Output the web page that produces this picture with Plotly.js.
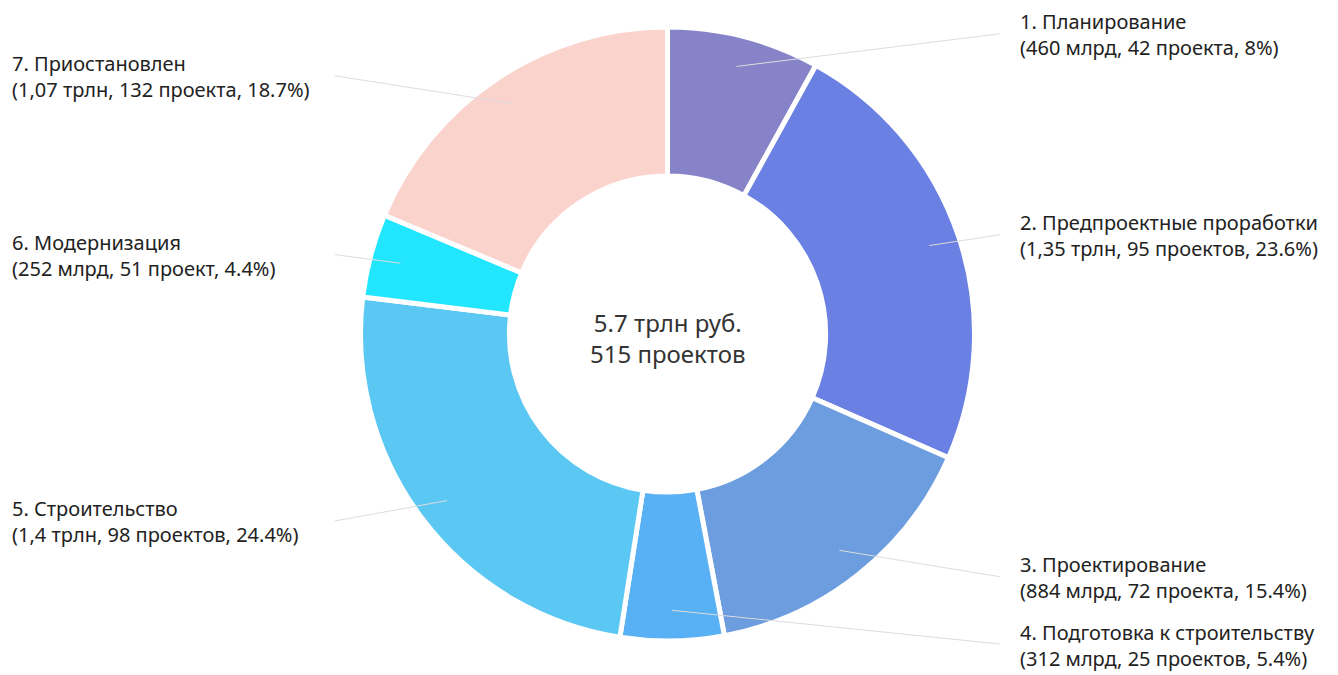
<!DOCTYPE html>
<html>
<head>
<meta charset="utf-8">
<script src="https://cdn.plot.ly/plotly-3.0.1.min.js"></script>
<style>html,body{margin:0;padding:0;background:#fff;}#chart{width:1338px;height:675px;}</style>
</head>
<body>
<div id="chart"></div>
<script>
const stageNames = ["1. Планирование", "2. Предпроектные проработки", "3. Проектирование", "4. Подготовка к строительству", "5. Строительство", "6. Модернизация", "7. Приостановлен"];
const valuesBln = [460, 1350, 884, 312, 1400, 252, 1070];
const amountLabels = ["460 млрд", "1,35 трлн", "884 млрд", "312 млрд", "1,4 трлн", "252 млрд", "1,07 трлн"];
const projectLabels = ["42 проекта", "95 проектов", "72 проекта", "25 проектов", "98 проектов", "51 проект", "132 проекта"];
const percentLabels = ["8%", "23.6%", "15.4%", "5.4%", "24.4%", "4.4%", "18.7%"];
const colors = ["#8783c9", "#6a80e3", "#6b9ddf", "#58b0f5", "#5bc8f4", "#22e6fe", "#fbd3cd"];
const centerText = "5.7 трлн руб.<br>515 проектов";

const W = 1338, H = 675;
const cx = 667.5, cy = 334, R = 307;
const px = x => x / W, py = y => 1 - y / H;

const total = valuesBln.reduce((a, b) => a + b, 0);
const shapes = [], annotations = [];
let cum = 0;
valuesBln.forEach((v, i) => {
  const mid = (cum + v / 2) / total * 2 * Math.PI;
  cum += v;
  const sx = cx + 0.9 * R * Math.sin(mid), sy = cy - 0.9 * R * Math.cos(mid);
  const right = Math.sin(mid) >= 0;
  const ly = cy - 1.01 * R * Math.cos(mid);
  const ex = right ? 1000 : 335;
  shapes.push({type: "line", xref: "paper", yref: "paper", x0: px(sx), y0: py(sy), x1: px(ex), y1: py(ly),
    line: {color: "#dcdcdc", width: 1}});
  annotations.push({xref: "paper", yref: "paper", x: px(right ? 1018 : 10), y: py(ly + 1),
    xanchor: "left", yanchor: "middle", align: "left", showarrow: false,
    text: stageNames[i] + "<br>(" + amountLabels[i] + ", " + projectLabels[i] + ", " + percentLabels[i] + ")",
    font: {family: "Noto Sans, Open Sans, sans-serif", size: 20, color: "#222"}});
});
annotations.push({xref: "paper", yref: "paper", x: px(cx), y: py(cy + 4), xanchor: "center", yanchor: "middle",
  showarrow: false, text: centerText, font: {family: "Noto Sans, Open Sans, sans-serif", size: 24, color: "#333"}});

const data = [{
  type: "pie", values: valuesBln, labels: stageNames, sort: false, direction: "clockwise", rotation: 0,
  hole: 0.515, textinfo: "none", hoverinfo: "label+percent",
  marker: {colors: colors, line: {color: "#ffffff", width: 5}},
  domain: {x: [px(cx - R), px(cx + R)], y: [py(cy + R), py(cy - R)]},
  showlegend: false
}];
const layout = {width: W, height: H, margin: {l: 0, r: 0, t: 0, b: 0}, paper_bgcolor: "#fff",
  showlegend: false, shapes: shapes, annotations: annotations};
Plotly.newPlot("chart", data, layout, {displayModeBar: false, staticPlot: true});
</script>
</body>
</html>
